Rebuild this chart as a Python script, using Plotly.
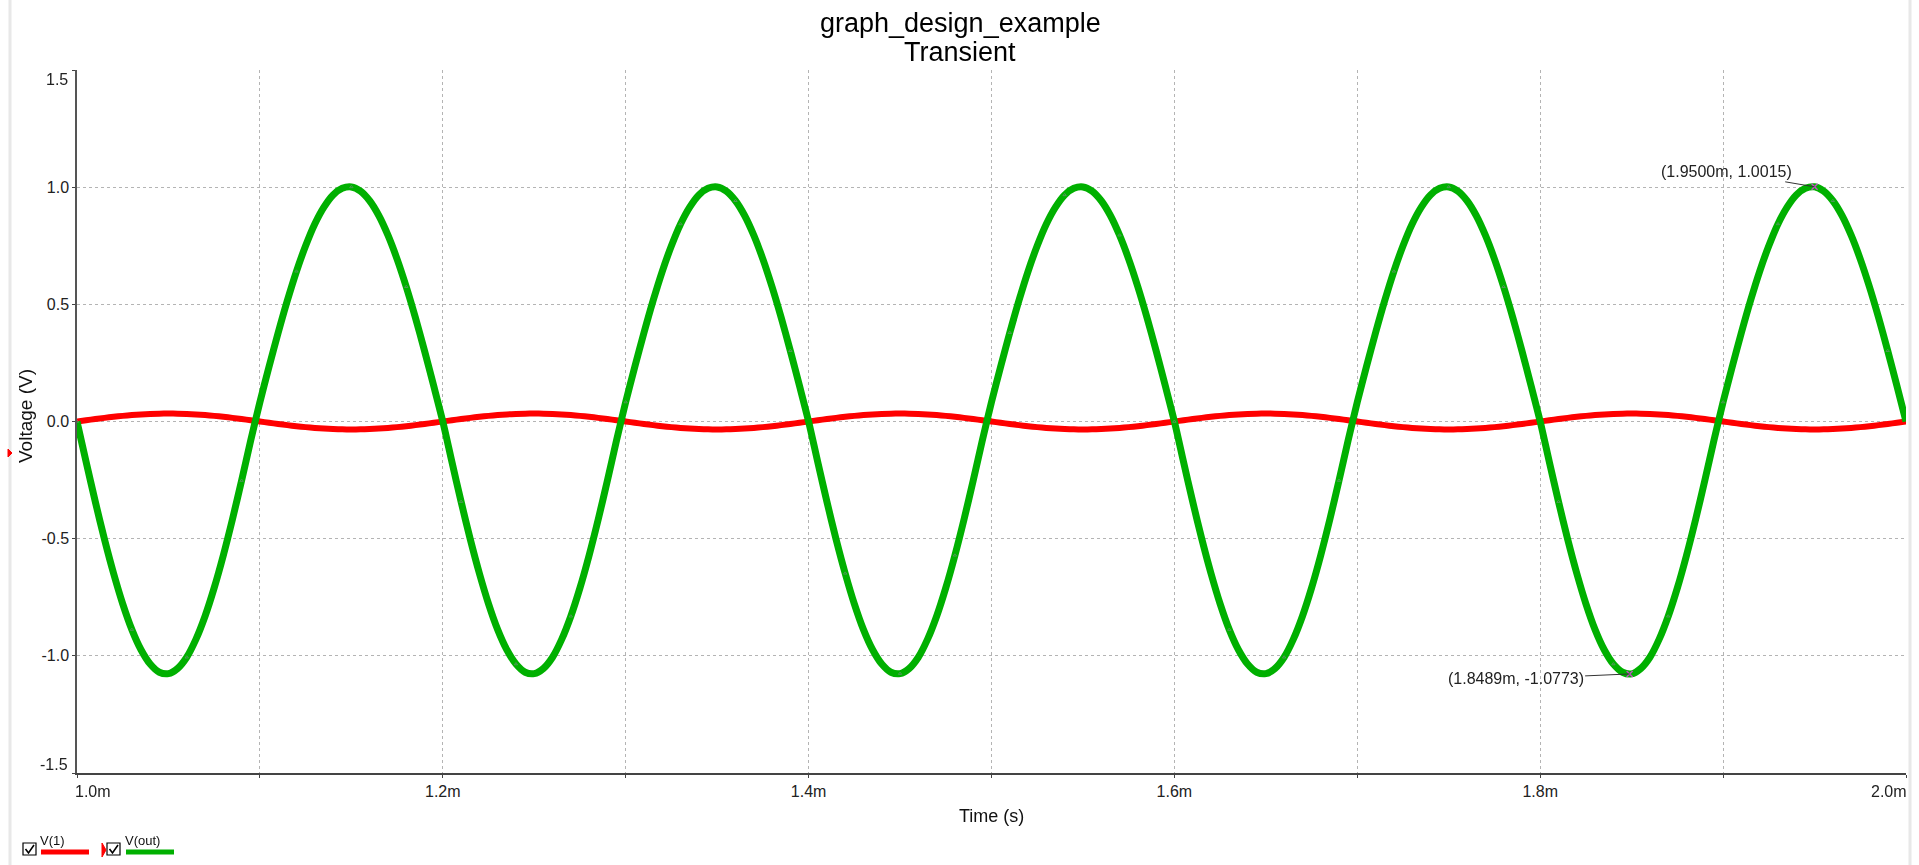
import plotly.graph_objects as go

# ---------------- data (every 0.005 ms) ----------------
t_ms = [
    1.000, 1.005, 1.010, 1.015, 1.020, 1.025, 1.030, 1.035, 1.040, 1.045, 1.050, 1.055, 1.060, 1.065, 1.070, 1.075, 1.080, 1.085, 1.090, 1.095,
    1.100, 1.105, 1.110, 1.115, 1.120, 1.125, 1.130, 1.135, 1.140, 1.145, 1.150, 1.155, 1.160, 1.165, 1.170, 1.175, 1.180, 1.185, 1.190, 1.195,
    1.200, 1.205, 1.210, 1.215, 1.220, 1.225, 1.230, 1.235, 1.240, 1.245, 1.250, 1.255, 1.260, 1.265, 1.270, 1.275, 1.280, 1.285, 1.290, 1.295,
    1.300, 1.305, 1.310, 1.315, 1.320, 1.325, 1.330, 1.335, 1.340, 1.345, 1.350, 1.355, 1.360, 1.365, 1.370, 1.375, 1.380, 1.385, 1.390, 1.395,
    1.400, 1.405, 1.410, 1.415, 1.420, 1.425, 1.430, 1.435, 1.440, 1.445, 1.450, 1.455, 1.460, 1.465, 1.470, 1.475, 1.480, 1.485, 1.490, 1.495,
    1.500, 1.505, 1.510, 1.515, 1.520, 1.525, 1.530, 1.535, 1.540, 1.545, 1.550, 1.555, 1.560, 1.565, 1.570, 1.575, 1.580, 1.585, 1.590, 1.595,
    1.600, 1.605, 1.610, 1.615, 1.620, 1.625, 1.630, 1.635, 1.640, 1.645, 1.650, 1.655, 1.660, 1.665, 1.670, 1.675, 1.680, 1.685, 1.690, 1.695,
    1.700, 1.705, 1.710, 1.715, 1.720, 1.725, 1.730, 1.735, 1.740, 1.745, 1.750, 1.755, 1.760, 1.765, 1.770, 1.775, 1.780, 1.785, 1.790, 1.795,
    1.800, 1.805, 1.810, 1.815, 1.820, 1.825, 1.830, 1.835, 1.840, 1.845, 1.850, 1.855, 1.860, 1.865, 1.870, 1.875, 1.880, 1.885, 1.890, 1.895,
    1.900, 1.905, 1.910, 1.915, 1.920, 1.925, 1.930, 1.935, 1.940, 1.945, 1.950, 1.955, 1.960, 1.965, 1.970, 1.975, 1.980, 1.985, 1.990, 1.995,
    2.000,
]

v_1 = [
    0.0000, 0.0053, 0.0105, 0.0154, 0.0200, 0.0240, 0.0275, 0.0303, 0.0323, 0.0336, 0.0340, 0.0336, 0.0323, 0.0303, 0.0275, 0.0240, 0.0200, 0.0154, 0.0105, 0.0053,
    0.0000, -0.0053, -0.0105, -0.0154, -0.0200, -0.0240, -0.0275, -0.0303, -0.0323, -0.0336, -0.0340, -0.0336, -0.0323, -0.0303, -0.0275, -0.0240, -0.0200, -0.0154, -0.0105, -0.0053,
    0.0000, 0.0053, 0.0105, 0.0154, 0.0200, 0.0240, 0.0275, 0.0303, 0.0323, 0.0336, 0.0340, 0.0336, 0.0323, 0.0303, 0.0275, 0.0240, 0.0200, 0.0154, 0.0105, 0.0053,
    0.0000, -0.0053, -0.0105, -0.0154, -0.0200, -0.0240, -0.0275, -0.0303, -0.0323, -0.0336, -0.0340, -0.0336, -0.0323, -0.0303, -0.0275, -0.0240, -0.0200, -0.0154, -0.0105, -0.0053,
    0.0000, 0.0053, 0.0105, 0.0154, 0.0200, 0.0240, 0.0275, 0.0303, 0.0323, 0.0336, 0.0340, 0.0336, 0.0323, 0.0303, 0.0275, 0.0240, 0.0200, 0.0154, 0.0105, 0.0053,
    0.0000, -0.0053, -0.0105, -0.0154, -0.0200, -0.0240, -0.0275, -0.0303, -0.0323, -0.0336, -0.0340, -0.0336, -0.0323, -0.0303, -0.0275, -0.0240, -0.0200, -0.0154, -0.0105, -0.0053,
    0.0000, 0.0053, 0.0105, 0.0154, 0.0200, 0.0240, 0.0275, 0.0303, 0.0323, 0.0336, 0.0340, 0.0336, 0.0323, 0.0303, 0.0275, 0.0240, 0.0200, 0.0154, 0.0105, 0.0053,
    0.0000, -0.0053, -0.0105, -0.0154, -0.0200, -0.0240, -0.0275, -0.0303, -0.0323, -0.0336, -0.0340, -0.0336, -0.0323, -0.0303, -0.0275, -0.0240, -0.0200, -0.0154, -0.0105, -0.0053,
    0.0000, 0.0053, 0.0105, 0.0154, 0.0200, 0.0240, 0.0275, 0.0303, 0.0323, 0.0336, 0.0340, 0.0336, 0.0323, 0.0303, 0.0275, 0.0240, 0.0200, 0.0154, 0.0105, 0.0053,
    0.0000, -0.0053, -0.0105, -0.0154, -0.0200, -0.0240, -0.0275, -0.0303, -0.0323, -0.0336, -0.0340, -0.0336, -0.0323, -0.0303, -0.0275, -0.0240, -0.0200, -0.0154, -0.0105, -0.0053,
    0.0000,
]

v_out = [
    0.000, -0.173, -0.342, -0.502, -0.648, -0.778, -0.888, -0.974, -1.035, -1.070, -1.076, -1.054, -1.006, -0.930, -0.831, -0.710, -0.571, -0.417, -0.252, -0.080,
    0.083, 0.234, 0.379, 0.516, 0.641, 0.750, 0.843, 0.915, 0.967, 0.995, 1.001, 0.983, 0.942, 0.879, 0.795, 0.693, 0.575, 0.444, 0.302, 0.153,
    0.000, -0.173, -0.342, -0.502, -0.648, -0.778, -0.888, -0.974, -1.035, -1.070, -1.076, -1.054, -1.006, -0.930, -0.831, -0.710, -0.571, -0.417, -0.252, -0.080,
    0.083, 0.234, 0.379, 0.516, 0.641, 0.750, 0.843, 0.915, 0.967, 0.995, 1.001, 0.983, 0.942, 0.879, 0.795, 0.693, 0.575, 0.444, 0.302, 0.153,
    0.000, -0.173, -0.342, -0.502, -0.648, -0.778, -0.888, -0.974, -1.035, -1.070, -1.076, -1.054, -1.006, -0.930, -0.831, -0.710, -0.571, -0.417, -0.252, -0.080,
    0.083, 0.234, 0.379, 0.516, 0.641, 0.750, 0.843, 0.915, 0.967, 0.995, 1.001, 0.983, 0.942, 0.879, 0.795, 0.693, 0.575, 0.444, 0.302, 0.153,
    0.000, -0.173, -0.342, -0.502, -0.648, -0.778, -0.888, -0.974, -1.035, -1.070, -1.076, -1.054, -1.006, -0.930, -0.831, -0.710, -0.571, -0.417, -0.252, -0.080,
    0.083, 0.234, 0.379, 0.516, 0.641, 0.750, 0.843, 0.915, 0.967, 0.995, 1.001, 0.983, 0.942, 0.879, 0.795, 0.693, 0.575, 0.444, 0.302, 0.153,
    0.000, -0.173, -0.342, -0.502, -0.648, -0.778, -0.888, -0.974, -1.035, -1.070, -1.077, -1.054, -1.006, -0.930, -0.831, -0.710, -0.571, -0.417, -0.252, -0.080,
    0.083, 0.234, 0.379, 0.516, 0.641, 0.750, 0.843, 0.915, 0.967, 0.995, 1.0015, 0.983, 0.942, 0.879, 0.795, 0.693, 0.575, 0.444, 0.302, 0.153,
    0.000,
]

x_tick_vals = [1.0, 1.1, 1.2, 1.3, 1.4, 1.5, 1.6, 1.7, 1.8, 1.9, 2.0]
x_tick_text = ["", "", "1.2m", "", "1.4m", "", "1.6m", "", "1.8m", "", ""]
x_end_labels = ["1.0m", "2.0m"]
y_tick_vals = [-1.5, -1.0, -0.5, 0.0, 0.5, 1.0, 1.5]
y_tick_text = ["", "-1.0", "-0.5", "0.0", "0.5", "1.0", ""]
y_end_labels = ["-1.5", "1.5"]

cursor_t = [1.95, 1.8489]
cursor_v = [1.0015, -1.0773]
cursor_text = ["(1.9500m, 1.0015)", "(1.8489m, -1.0773)"]

series_names = ["V(1)", "V(out)"]
title_lines = ["graph_design_example", "Transient"]

# ---------------- layout helpers (pixel -> paper) ----------------
W, H = 1919, 865
ML, MR, MT, MB = 77, 13, 70, 92
PW, PH = W - ML - MR, H - MT - MB


def px(x):
    return (x - ML) / PW


def py(y):
    return (H - MB - y) / PH


FONT = "Liberation Sans, Arial, sans-serif"
RED = "#ff0000"
GREEN = "#00b000"

fig = go.Figure()

fig.add_trace(go.Scatter(
    x=t_ms, y=v_1, mode="lines", name=series_names[0],
    line=dict(color=RED, width=6, shape="spline", smoothing=0.8),
    showlegend=False, hoverinfo="skip",
))
fig.add_trace(go.Scatter(
    x=t_ms, y=v_out, mode="lines", name=series_names[1],
    line=dict(color=GREEN, width=7, shape="spline", smoothing=0.8),
    showlegend=False, hoverinfo="skip",
))
# small data-point markers along V(out)
fig.add_trace(go.Scatter(
    x=t_ms[::6], y=v_out[::6], mode="markers",
    marker=dict(symbol="triangle-up-open", size=3, color="#9a80aa",
                line=dict(width=1, color="#9a80aa")),
    opacity=0.5, showlegend=False, hoverinfo="skip",
))
# cursor markers
fig.add_trace(go.Scatter(
    x=cursor_t, y=cursor_v, mode="markers",
    marker=dict(symbol="x-thin-open", size=6, color="#c050c0",
                line=dict(width=1.5, color="#c050c0")),
    showlegend=False, hoverinfo="skip",
))

annotations = []
# title lines
annotations.append(dict(text=title_lines[0], x=px(960), y=py(23), xref="paper", yref="paper",
                        showarrow=False, xanchor="center", yanchor="middle",
                        font=dict(family=FONT, size=27, color="#000000")))
annotations.append(dict(text=title_lines[1], x=px(960), y=py(52), xref="paper", yref="paper",
                        showarrow=False, xanchor="center", yanchor="middle",
                        font=dict(family=FONT, size=27, color="#000000")))
# axis titles
annotations.append(dict(text="Time (s)", x=px(992), y=py(816), xref="paper", yref="paper",
                        showarrow=False, xanchor="center", yanchor="middle",
                        font=dict(family=FONT, size=18, color="#111111")))
annotations.append(dict(text="Voltage (V)", x=px(25), y=py(416), xref="paper", yref="paper",
                        showarrow=False, xanchor="center", yanchor="middle", textangle=-90,
                        font=dict(family=FONT, size=19, color="#111111")))
# end tick labels
tick_font = dict(family=FONT, size=16, color="#222222")
annotations.append(dict(text=x_end_labels[0], x=px(73), y=py(791), xref="paper", yref="paper",
                        showarrow=False, xanchor="left", yanchor="middle", font=tick_font))
annotations.append(dict(text=x_end_labels[1], x=px(1909), y=py(791), xref="paper", yref="paper",
                        showarrow=False, xanchor="right", yanchor="middle", font=tick_font))
annotations.append(dict(text=y_end_labels[1], x=px(70), y=py(80), xref="paper", yref="paper",
                        showarrow=False, xanchor="right", yanchor="middle", font=tick_font))
annotations.append(dict(text=y_end_labels[0], x=px(70), y=py(764), xref="paper", yref="paper",
                        showarrow=False, xanchor="right", yanchor="middle", font=tick_font))
# cursor annotations
annotations.append(dict(text=cursor_text[0], x=cursor_t[0], y=cursor_v[0], xref="x", yref="y",
                        showarrow=True, arrowhead=0, arrowwidth=1, arrowcolor="#333333",
                        ax=-88, ay=-15, font=tick_font))
annotations.append(dict(text=cursor_text[1], x=cursor_t[1], y=cursor_v[1], xref="x", yref="y",
                        showarrow=True, arrowhead=0, arrowwidth=1, arrowcolor="#333333",
                        ax=-114, ay=5, font=tick_font))
# legend labels
leg_font = dict(family=FONT, size=13, color="#111111")
annotations.append(dict(text=series_names[0], x=px(38), y=py(840), xref="paper", yref="paper",
                        showarrow=False, xanchor="left", yanchor="middle", font=leg_font))
annotations.append(dict(text=series_names[1], x=px(123), y=py(840), xref="paper", yref="paper",
                        showarrow=False, xanchor="left", yanchor="middle", font=leg_font))

shapes = []
# window frame lines
for fx in (10, 1910):
    shapes.append(dict(type="line", xref="paper", yref="paper", x0=px(fx), x1=px(fx),
                       y0=py(0), y1=py(H), line=dict(color="#e8e8e8", width=3)))
# legend checkboxes
for bx in (23, 107):
    shapes.append(dict(type="rect", xref="paper", yref="paper", x0=px(bx), x1=px(bx + 13),
                       y0=py(855), y1=py(843), line=dict(color="#000000", width=1.2),
                       fillcolor="#ffffff"))
    shapes.append(dict(type="path", xref="paper", yref="paper",
                       path=f"M {px(bx + 2.5)},{py(849)} L {px(bx + 5.5)},{py(853)} L {px(bx + 11)},{py(845)}",
                       line=dict(color="#000000", width=1.6)))
# legend swatches
shapes.append(dict(type="line", xref="paper", yref="paper", x0=px(41), x1=px(89),
                   y0=py(852), y1=py(852), line=dict(color=RED, width=5)))
shapes.append(dict(type="line", xref="paper", yref="paper", x0=px(126), x1=px(174),
                   y0=py(852), y1=py(852), line=dict(color=GREEN, width=5)))
# red cursor icons
shapes.append(dict(type="path", xref="paper", yref="paper",
                   path=f"M {px(102)},{py(843)} L {px(106)},{py(850)} L {px(102)},{py(857)} Z",
                   line=dict(color=RED, width=1), fillcolor=RED))
shapes.append(dict(type="path", xref="paper", yref="paper",
                   path=f"M {px(8)},{py(449)} L {px(12)},{py(453)} L {px(8)},{py(457)} Z",
                   line=dict(color=RED, width=1), fillcolor=RED))

fig.update_layout(
    width=W, height=H, autosize=False,
    margin=dict(l=ML, r=MR, t=MT, b=MB, pad=0),
    paper_bgcolor="#ffffff", plot_bgcolor="#ffffff",
    font=dict(family=FONT, size=16, color="#222222"),
    showlegend=False,
    annotations=annotations,
    shapes=shapes,
    xaxis=dict(
        range=[1.0, 2.0], tickvals=x_tick_vals, ticktext=x_tick_text,
        showgrid=True, gridcolor="#b4b4b4", griddash="dot", gridwidth=1,
        showline=True, linecolor="#444444", linewidth=1.5,
        ticks="outside", ticklen=3, tickcolor="#444444",
        zeroline=False, tickfont=tick_font, fixedrange=True,
    ),
    xaxis2=dict(
        range=[1.0, 2.0], overlaying="x", side="top", anchor="y",
        tickvals=x_tick_vals, ticks="inside", ticklen=3, tickcolor="#999999",
        showticklabels=False, showgrid=False, showline=False, zeroline=False,
    ),
    yaxis=dict(
        range=[-1.5, 1.5], tickvals=y_tick_vals, ticktext=y_tick_text,
        showgrid=True, gridcolor="#b4b4b4", griddash="dot", gridwidth=1,
        showline=True, linecolor="#555555", linewidth=1.5,
        ticks="outside", ticklen=3, tickcolor="#444444",
        zeroline=False, tickfont=tick_font, fixedrange=True,
    ),
)

fig.write_html(
    "out.html",
    config={"displayModeBar": False},
    post_script="document.body.style.margin='0';document.body.style.overflow='hidden';",
)
